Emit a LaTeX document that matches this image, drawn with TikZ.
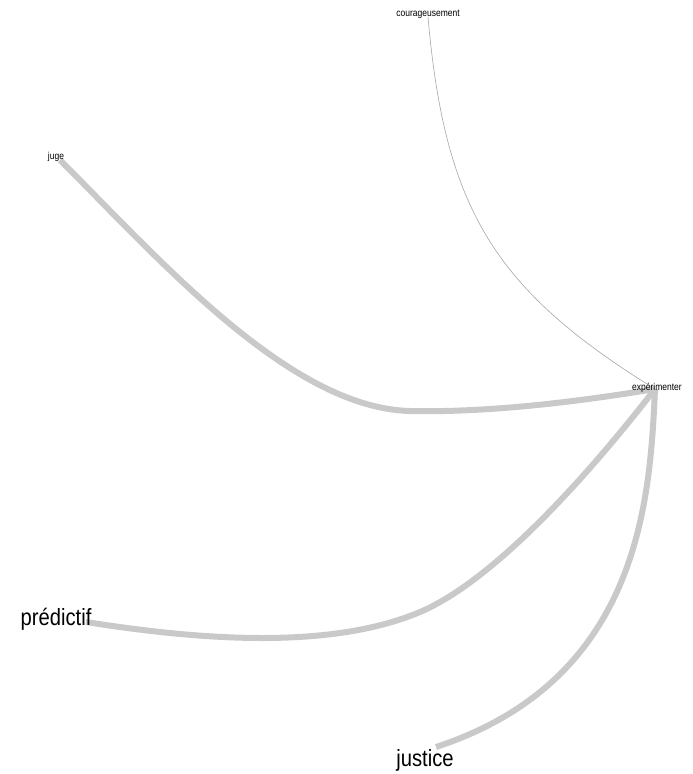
\documentclass[tikz,border=0pt]{standalone}
\usepackage{fontspec}
\setmainfont{Liberation Sans}
\begin{document}
\begin{tikzpicture}[x=1pt,y=-1pt,
  lbl/.style={inner sep=0pt, text=black},
  small/.style={lbl, font=\fontsize{10}{11}\selectfont, xscale=0.85},
  big/.style={lbl, font=\fontsize{23.5}{26}\selectfont, xscale=0.86},
  heavy/.style={draw=black!21, line width=6pt},
  light/.style={draw=black!35, line width=0.6pt}]
\useasboundingbox (0,0) rectangle (693,774);
% endpoints
\coordinate (pe) at (655,389);
\coordinate (pc) at (428,17);
\coordinate (pj) at (60,160);
\coordinate (pp) at (86,622);
\coordinate (pu) at (436,747);
% edges
\draw[light] (pc) .. controls (445,210) and (495,290) .. (pe);
\draw[heavy] (pj) .. controls (160,260) and (290,408) .. (410,411)
                  .. controls (500,413) and (600,398) .. (pe);
\draw[heavy] (pp) .. controls (200,640) and (330,650) .. (420,612)
                  .. controls (500,578) and (600,460) .. (pe);
\draw[heavy] (pu) .. controls (640,680) and (650,500) .. (pe);
% labels
\node[small] (cour) at (428,14) {courageusement};
\node[small] (juge) at (56,157) {juge};
\node[small] (exp) at (657,388) {expérimenter};
\node[big] (pred) at (56,619) {prédictif};
\node[big] (just) at (425,760) {justice};
\end{tikzpicture}
\end{document}
